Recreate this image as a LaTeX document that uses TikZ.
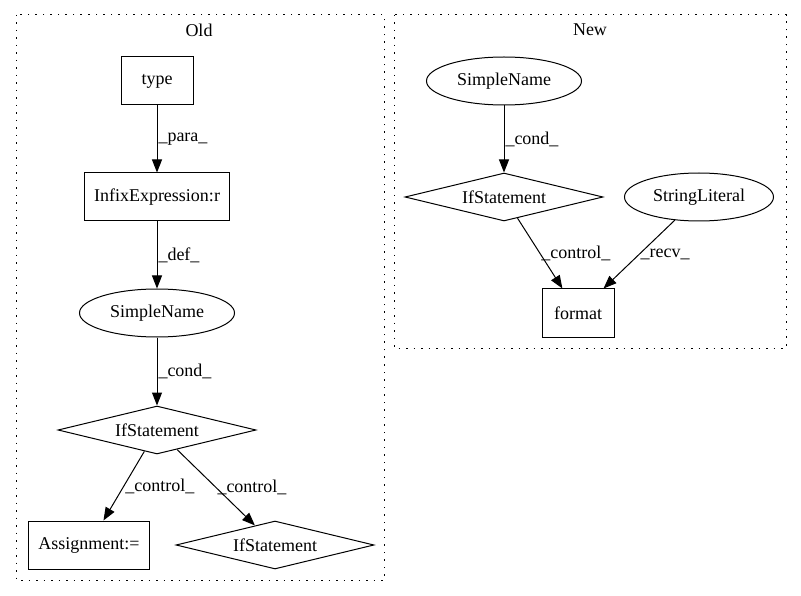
\documentclass[tikz,border=0pt]{standalone}
\usepackage{fontspec}
\setmainfont{Liberation Serif}
\usetikzlibrary{shapes.geometric,arrows.meta,positioning}

\begin{document}
\begin{tikzpicture}
    [x=1pt,y=-1pt,font=\fontsize{18}{21}\selectfont,
     box/.style={draw,rectangle,minimum width=72pt,minimum height=48pt,inner xsep=10pt,line width=1pt},
     oval/.style={draw,ellipse,minimum width=155pt,minimum height=48pt,inner sep=0pt,line width=1pt},
     cond/.style={draw,diamond,aspect=4,minimum width=198pt,minimum height=48pt,inner sep=1pt,line width=1pt},
     flow/.style={-{Triangle[length=13pt,width=10pt]},line width=1pt},
     edgelab/.style={right,inner sep=1pt},
     cluster/.style={draw,dash pattern=on 1.5pt off 6pt,line width=1pt}]
    \useasboundingbox (0,0) rectangle (801,596);

    % clusters
    \draw[cluster] (16,15) rectangle (384,580);
    \draw[cluster] (394,15) rectangle (786,348);
    \node (oldtitle) at (199,30) {Old};
    \node (newtitle) at (590,30) {New};

    % old version
    \node[box] (type) at (157,81) {type};
    \node[box] (infix) at (157,197) {InfixExpression:r};
    \node[oval] (oldname) at (157,313) {SimpleName};
    \node[cond] (oldif) at (157,430) {IfStatement};
    \node[box] (assign) at (89,545) {Assignment:=};
    \node[cond] (oldif2) at (275,545) {IfStatement};

    % new version
    \node[oval] (newname) at (504,81) {SimpleName};
    \node[cond] (newif) at (504,197) {IfStatement};
    \node[oval,minimum width=149pt] (strlit) at (699,197) {StringLiteral};
    \node[box] (format) at (578,313) {format};

    \foreach \a / \b / \l in {type/infix/para,infix/oldname/def,oldname/oldif/cond,
        oldif/assign/control,oldif/oldif2/control,newname/newif/cond,
        newif/format/control,strlit/format/recv} {
      \draw[flow] (\a) -- node[edgelab]{\_\l\_} (\b);
    }
\end{tikzpicture}
\end{document}
